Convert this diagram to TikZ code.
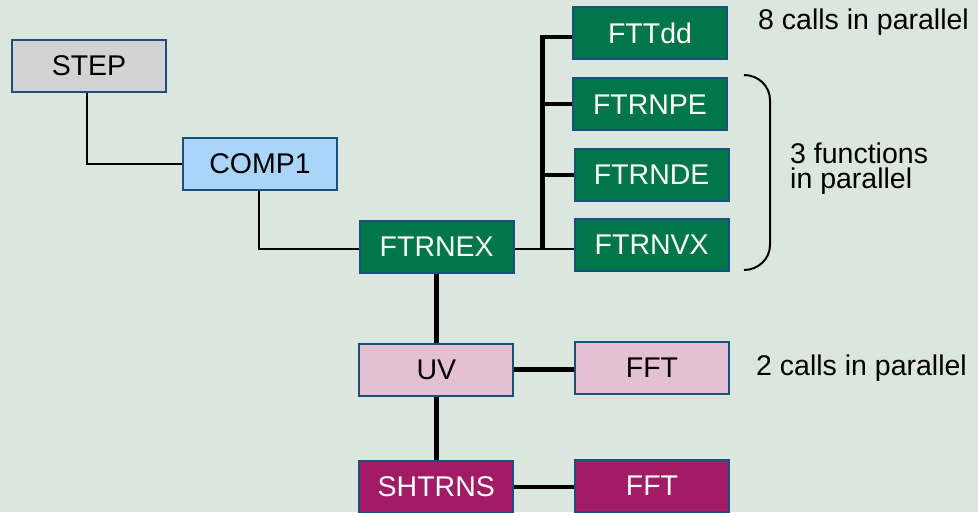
\documentclass[tikz,border=0pt]{standalone}
\usepackage{fontspec}
\setmainfont{Liberation Sans}
\definecolor{bgc}{HTML}{DAE6DE}
\definecolor{bordc}{HTML}{1B4F7D}
\definecolor{grayf}{HTML}{D3D3D3}
\definecolor{bluef}{HTML}{A9D5FA}
\definecolor{greenf}{HTML}{00764A}
\definecolor{pinkf}{HTML}{E4C1D2}
\definecolor{magf}{HTML}{A21C65}
\begin{document}
\begin{tikzpicture}[x=1pt,y=-1pt,
  box/.style={draw=bordc,line width=2pt,minimum width=154pt,minimum height=52pt,inner sep=0pt,font=\fontsize{28.5}{30}\selectfont},
  grayb/.style={box,fill=grayf,text=black},
  blueb/.style={box,fill=bluef,text=black},
  greenb/.style={box,fill=greenf,text=white},
  pinkb/.style={box,fill=pinkf,text=black},
  magb/.style={box,fill=magf,text=white},
  thinl/.style={line width=1.8pt,black},
  thickl/.style={line width=4.5pt,black},
  note/.style={font=\fontsize{28.5}{25}\selectfont,inner sep=0pt,anchor=west,align=left}]
\fill[bgc] (0,0) rectangle (978,512);
\useasboundingbox (0,0) rectangle (978,512);
\node[grayb] (STEP) at (89,66) {STEP};
\node[blueb] (COMP1) at (260,164) {COMP1};
\node[greenb] (FTRNEX) at (436.7,246.5) {FTRNEX};
\node[greenb] (FTTdd) at (650,33) {FTTdd};
\node[greenb] (FTRNPE) at (650,104.2) {FTRNPE};
\node[greenb] (FTRNDE) at (651.7,175) {FTRNDE};
\node[greenb] (FTRNVX) at (651.7,244.5) {FTRNVX};
\node[pinkb] (UV) at (436.3,369.7) {UV};
\node[pinkb] (FFT1) at (652,368) {FFT};
\node[magb] (SHTRNS) at (436.3,487) {SHTRNS};
\node[magb] (FFT2) at (652,486) {FFT};
\node[note] (n8) at (758,22) {8 calls in parallel};
\node[note] (n3) at (790,169) {3 functions\\in parallel};
\node[note] (n2) at (756,368) {2 calls in parallel};
\coordinate (bus) at (542.3,0);
% connectors
\draw[thinl] ([xshift=-2pt]STEP.south) |- (COMP1.west);
\draw[thinl] ([xshift=-1.3pt]COMP1.south) |- ([yshift=-2.5pt]FTRNEX.west);
\draw[thinl] ([yshift=-2.5pt]FTRNEX.east) -- ([yshift=-2.5pt]FTRNEX.east -| FTRNVX.west);
\draw[thickl] ([yshift=-2.5pt]bus |- FTRNEX.east) -- ([yshift=-4pt]bus |- FTTdd.west) -- ([yshift=-4pt]FTTdd.west);
\draw[thickl] (bus |- FTRNPE.west) -- (FTRNPE.west);
\draw[thickl] (bus |- FTRNDE.west) -- (FTRNDE.west);
\draw[thickl] (FTRNEX.south -| UV.north) -- (UV.north);
\draw[thickl] (UV.east) -- (UV.east -| FFT1.west);
\draw[thickl] (UV.south) -- (SHTRNS.north);
\draw[thickl] (SHTRNS.east) -- (SHTRNS.east -| FFT2.west);
% bracket
\draw[line width=2pt] (744,75) to[out=0,in=90] (770,100) -- (770,245) to[out=-90,in=0] (744,270);
\end{tikzpicture}
\end{document}
